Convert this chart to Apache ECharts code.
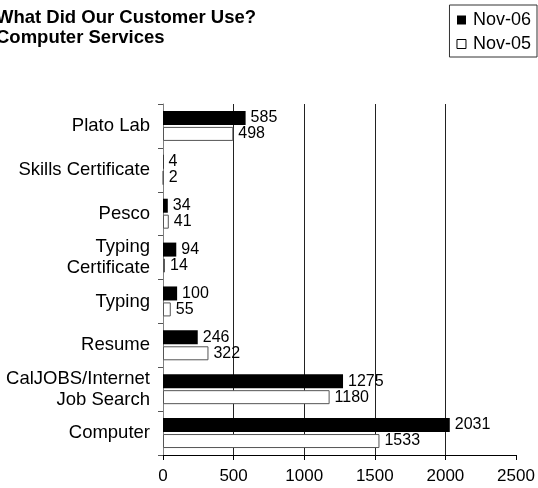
<!DOCTYPE html>
<html><head><meta charset="utf-8">
<script src="https://cdn.jsdelivr.net/npm/echarts@6/dist/echarts.min.js"></script>
<style>html,body{margin:0;padding:0;background:#fff}#c{width:538px;height:488px}</style>
</head><body><div id="c"></div>
<script>
const categories = ['Plato Lab','Skills Certificate','Pesco','Typing\nCertificate','Typing','Resume','CalJOBS/Internet\nJob Search','Computer'];
const nov06 = [585,4,34,94,100,246,1275,2031];
const nov05 = [498,2,41,14,55,322,1180,1533];
const xTicks = [0,500,1000,1500,2000,2500];
const ff = 'Liberation Sans, Arial, sans-serif';
const chart = echarts.init(document.getElementById('c'), null, {renderer:'canvas'});
chart.setOption({
  animation:false,
  textStyle:{fontFamily:ff},
  title:{text:'What Did Our Customer Use?\nComputer Services', left:-4, top:8, padding:0,
    textStyle:{fontFamily:ff,fontSize:18.5,fontWeight:'bold',color:'#000',lineHeight:20}},
  legend:{right:1, top:5, orient:'vertical', itemWidth:9, itemHeight:9, itemGap:6,
    padding:[6,6,4,7], borderColor:'#333', borderWidth:1, icon:'rect',
    textStyle:{fontFamily:ff,fontSize:18,color:'#000',padding:[0,0,0,2]},
    data:[{name:'Nov-06',itemStyle:{color:'#000'}},{name:'Nov-05',itemStyle:{color:'#fff',borderColor:'#000',borderWidth:1}}]},
  grid:{left:163, right:22, top:104, bottom:33},
  xAxis:{type:'value', min:xTicks[0], max:xTicks[xTicks.length-1], interval:500,
    axisLine:{show:true,lineStyle:{color:'#000'}},
    axisTick:{show:true,length:5,lineStyle:{color:'#000'}},
    axisLabel:{fontFamily:ff,fontSize:17,color:'#000',margin:13,formatter:function(v){return String(v);}},
    splitLine:{show:true,showMinLine:false,showMaxLine:false,lineStyle:{color:'#222',width:1}}},
  yAxis:{type:'category', inverse:true, data:categories,
    axisLine:{show:true,lineStyle:{color:'#808080'}},
    axisTick:{show:true,length:5,inside:false,lineStyle:{color:'#555'}},
    axisLabel:{fontFamily:ff,fontSize:18.5,color:'#000',margin:13,lineHeight:21.5,align:'right'}},
  series:[
    {name:'Nov-06', type:'bar', data:nov06, barWidth:14, barGap:'14%',
      itemStyle:{color:'#000'},
      label:{show:true,position:'right',distance:5,fontFamily:ff,fontSize:16,color:'#000'}},
    {name:'Nov-05', type:'bar', data:nov05, barWidth:14,
      itemStyle:{color:'#fff',borderColor:'#555',borderWidth:1},
      label:{show:true,position:'right',distance:5,fontFamily:ff,fontSize:16,color:'#000'}}
  ]
});
</script></body></html>
